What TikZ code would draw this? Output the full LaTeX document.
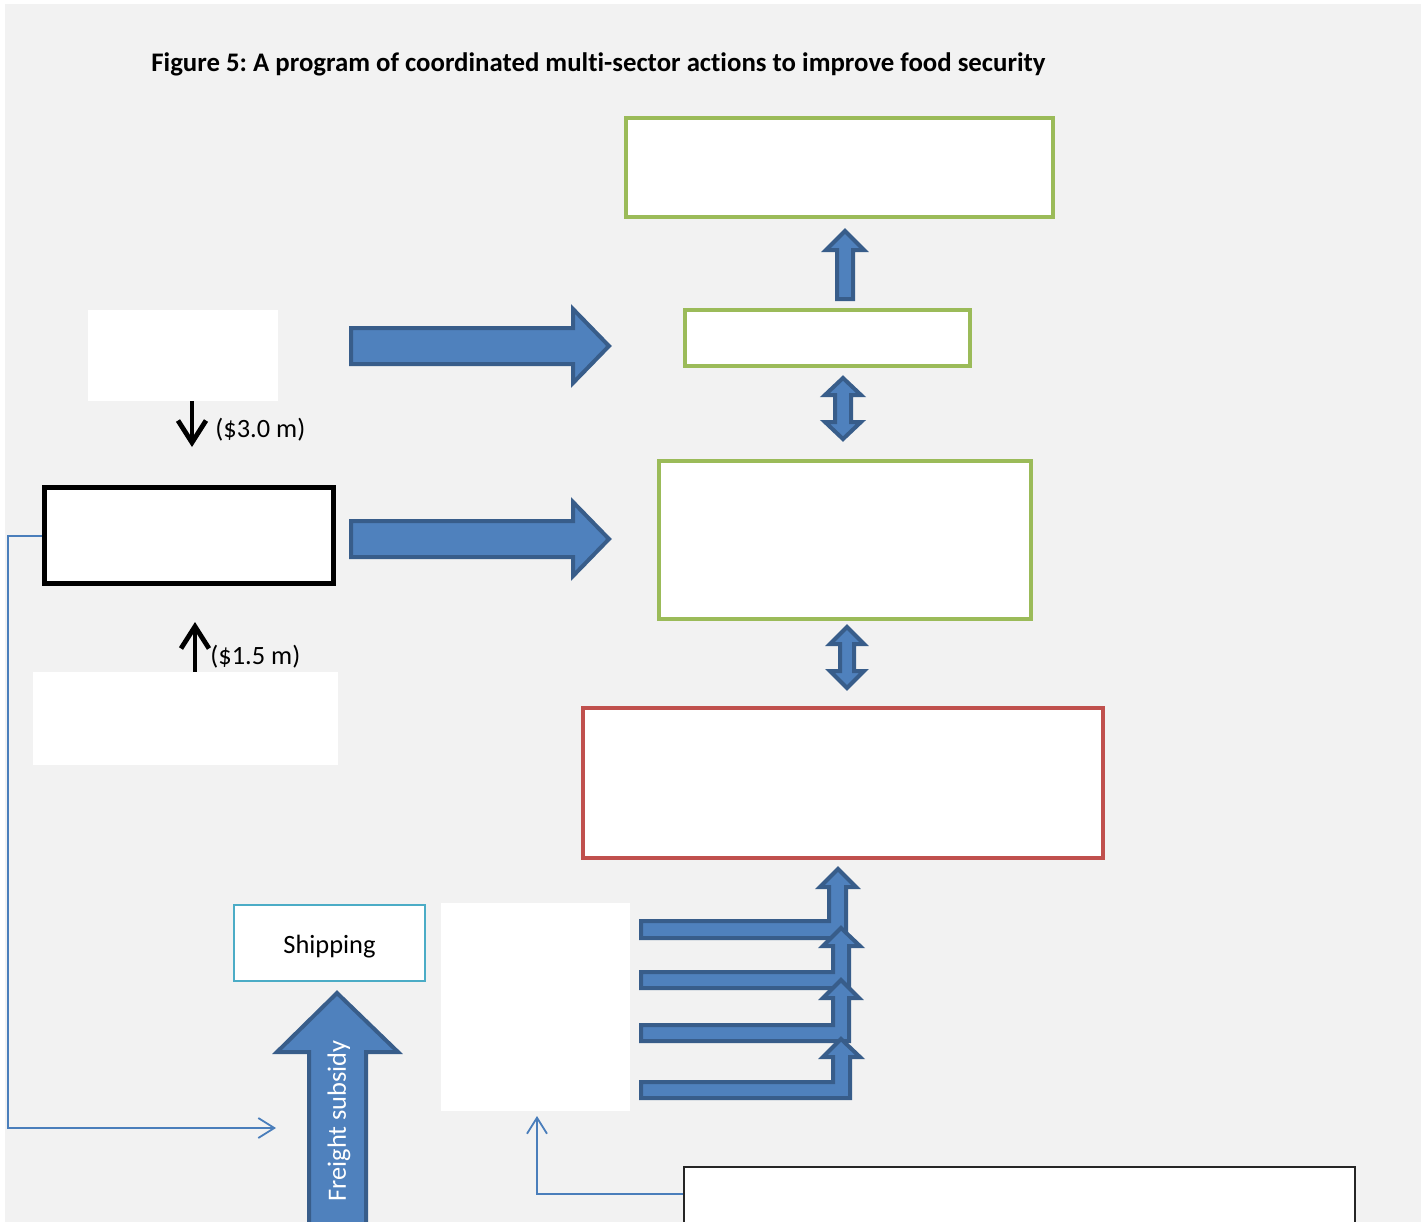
\documentclass[tikz,border=0pt]{standalone}
\usepackage{fontspec}
\setmainfont{Carlito}[Ligatures=NoCommon]
\usetikzlibrary{arrows.meta,fit}
\definecolor{bggrey}{HTML}{F2F2F2}
\definecolor{boxgreen}{HTML}{9BBB59}
\definecolor{boxred}{HTML}{C0504D}
\definecolor{fatfill}{HTML}{4F81BD}
\definecolor{fatline}{HTML}{385D8A}
\definecolor{shipcyan}{HTML}{4BACC6}
\definecolor{connblue}{HTML}{4A7EBB}
\tikzset{
  plainbox/.style={inner sep=0pt, fill=white},
  greenbox/.style={plainbox, draw=boxgreen, line width=2.2pt},
  redbox/.style={plainbox, draw=boxred, line width=2.4pt},
  blackbox/.style={plainbox, draw=black, line width=2.5pt},
  shipbox/.style={plainbox, draw=shipcyan, line width=1pt},
  thinbox/.style={plainbox, draw=black!85, line width=1pt},
  fatarrow/.style={fill=fatfill, draw=fatline, line width=2pt, line join=miter},
  flowarrow/.style={draw=black, line width=2.4pt, -{Straight Barb[length=11pt,width=14pt,line width=2.4pt]}},
  conn/.style={draw=connblue, line width=1pt, -{Straight Barb[length=8pt,width=10pt,line width=0.9pt]}},
  moneylabel/.style={anchor=west, inner sep=0pt},
}
\frenchspacing
\begin{document}
\begin{tikzpicture}[x=0.5pt,y=-0.5pt,font=\fontsize{13.2}{16}\selectfont]
\useasboundingbox (0,0) rectangle (1421,1222);
\clip (0,0) rectangle (1421,1222);
\fill[white] (0,0) rectangle (1421,1222);
\fill[bggrey] (5,4) rectangle (1421,1222);

% title
\node[anchor=base west, inner sep=0pt, font=\fontsize{13.4}{16}\selectfont\bfseries] (title) at (151,71)
  {Figure 5: A program of coordinated multi-sector actions to improve food security};

% boxes on the right
\node[greenbox, fit={(626,118) (1053,217)}] (g1) {};
\node[greenbox, fit={(685,310) (970,366)}] (g2) {};
\node[greenbox, fit={(659,461) (1031,619)}] (g3) {};
\node[redbox, fit={(583,708) (1103,858)}] (red) {};

% boxes on the left
\node[plainbox, fit={(88,310) (278,401)}] (wl1) {};
\node[blackbox, fit={(44.5,487.5) (333.5,583.5)}] (blk) {};
\node[plainbox, fit={(33,672) (338,765)}] (wl2) {};
\node[shipbox, minimum width=95.5pt, minimum height=38pt, text height=12.3pt] (ship) at (329.5,943) {Shipping};
\node[plainbox, fit={(441,903) (630,1111)}] (wmid) {};
\node[thinbox, fit={(684,1167) (1355,1260)}] (br) {};

% black money arrows
\coordinate (t30) at (192,447);
\draw[flowarrow] (wl1.south -| t30) -- (t30);
\node[moneylabel] (l30) at (215,430) {(\$3.0 m)};
\coordinate (t15) at (195,622);
\draw[flowarrow] (wl2.north -| t15) -- (t15);
\node[moneylabel] (l15) at (210,657) {(\$1.5 m)};

% big right arrows
\draw[fatarrow] (351,328) -- (573,328) -- (573,309) -- (609,346) -- (573,383) -- (573,364) -- (351,364) -- cycle;
\draw[fatarrow] (351,521) -- (573,521) -- (573,502) -- (609,539) -- (573,576) -- (573,557) -- (351,557) -- cycle;

% up arrow g2 -> g1
\draw[fatarrow] (837,299) -- (837,250) -- (826,250) -- (845,231) -- (864,250) -- (853,250) -- (853,299) -- cycle;
% double arrows
\draw[fatarrow] (835,395) -- (825,395) -- (843,378) -- (861,395) -- (851,395) -- (851,422) -- (861,422) -- (843,439) -- (825,422) -- (835,422) -- cycle;
\draw[fatarrow] (840,644) -- (830,644) -- (847,627) -- (864,644) -- (854,644) -- (854,671) -- (864,671) -- (847,688) -- (830,671) -- (840,671) -- cycle;

% bent arrows into red box
\draw[fatarrow] (641,921) -- (829,921) -- (829,887) -- (820,887) -- (838,869) -- (856,887) -- (846,887) -- (846,938) -- (641,938) -- cycle;
\draw[fatarrow] (641,972) -- (833,972) -- (833,946) -- (823,946) -- (841,928) -- (860,946) -- (849,946) -- (849,988) -- (641,988) -- cycle;
\draw[fatarrow] (641,1025) -- (833,1025) -- (833,998) -- (823,998) -- (841,980) -- (859,998) -- (849,998) -- (849,1041) -- (641,1041) -- cycle;
\draw[fatarrow] (641,1082) -- (833,1082) -- (833,1057) -- (823,1057) -- (841,1039) -- (860,1057) -- (850,1057) -- (850,1098) -- (641,1098) -- cycle;

% freight subsidy arrow
\draw[fatarrow] (309,1240) -- (309,1052) -- (277,1052) -- (337,993) -- (398,1052) -- (366,1052) -- (366,1240) -- cycle;
\node[rotate=90, text=white, inner sep=0pt] (fsub) at (339,1121) {Freight subsidy};

% thin blue connectors
\coordinate (fsin) at (276,1128);
\draw[conn] (blk.west) -- (8,535.5) |- (fsin);
\coordinate (wbin) at (537,1116);
\draw[conn] (br.north west) ++(0,28) -| (wbin);
\end{tikzpicture}
\end{document}
